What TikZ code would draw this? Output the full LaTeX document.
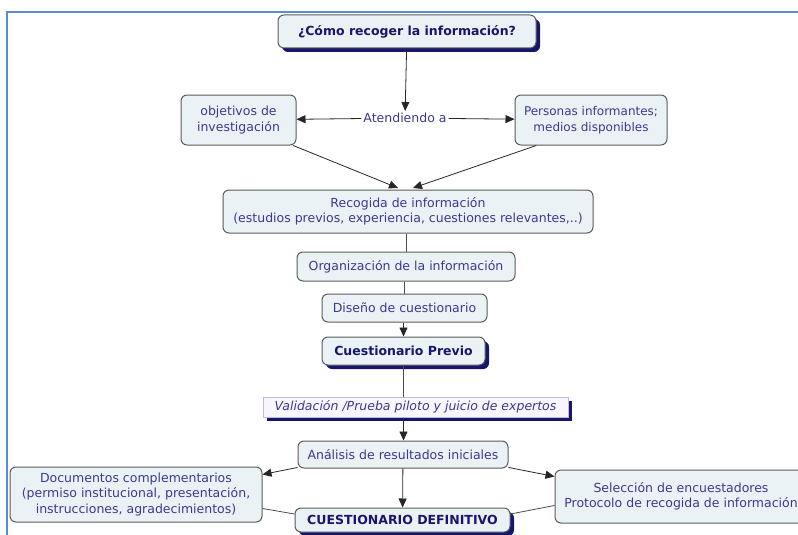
\documentclass[tikz,border=0pt]{standalone}
\usepackage{fontspec}
\setmainfont{DejaVu Sans}
\usepackage{tikz}
\usetikzlibrary{arrows.meta, positioning, shadows}

\definecolor{mapblue}{HTML}{3A3A90}
\definecolor{mapnavy}{HTML}{16166A}
\definecolor{mapfill}{HTML}{EAF2F6}
\definecolor{mapline}{HTML}{5C5C5C}
\definecolor{frameblue}{HTML}{5B8BD2}
\definecolor{lavender}{HTML}{C8B6E2}
\definecolor{palelav}{HTML}{F8F6FC}

\begin{document}
\begin{tikzpicture}[
    x=1pt, y=-1pt,
    concept/.style={rectangle, draw=mapline, line width=1pt, rounded corners=6pt, fill=mapfill, text=mapblue, font=\fontsize{12.5}{15.5}\selectfont, align=center, inner sep=2pt},
    keybox/.style={concept, text=mapnavy, font=\fontsize{12.5}{15}\selectfont\bfseries, drop shadow={shadow xshift=4pt, shadow yshift=-4pt, fill=mapnavy, opacity=1}},
    linkword/.style={fill=white, text=mapblue, font=\fontsize{12.5}{15.5}\selectfont, inner sep=2pt},
    arrow/.style={-{Triangle[length=9pt, width=8pt]}, line width=0.8pt, draw=black!85},
    link/.style={line width=0.8pt, draw=black!70}
]
\useasboundingbox (0,0) rectangle (798,535);
\clip (0,0) rectangle (798,535);

% Frame
\draw[frameblue, line width=2pt] (798,12.5) -- (7,12.5) -- (7,540);

% Question
\node[keybox, minimum width=258, minimum height=33] (question) at (407,31.5) {¿Cómo recoger la información?};

% Criteria
\node[linkword] (atend) at (405,118) {Atendiendo a};
\node[concept, minimum width=115, minimum height=50] (objetivos) at (238.5,120) {objetivos de\\investigación};
\node[concept, minimum width=152, minimum height=50, font=\fontsize{12}{15.5}\selectfont] (personas) at (591,120) {Personas informantes;\\medios disponibles};

% Design steps
\node[concept, minimum width=370, minimum height=43] (recogida) at (408,211.5) {Recogida de información\\(estudios previos, experiencia, cuestiones relevantes,..)};
\node[concept, minimum width=218, minimum height=29] (organiza) at (406,266.5) {Organización de la información};
\node[concept, minimum width=165, minimum height=28] (diseno) at (404.5,308) {Diseño de cuestionario};
\node[keybox, minimum width=163, minimum height=28] (previo) at (403.5,351) {Cuestionario Previo};

% Validation
\node[concept, draw=lavender, fill=palelav, rounded corners=0pt, font=\fontsize{12.5}{15.5}\selectfont\itshape, minimum width=305, minimum height=20, inner sep=1pt, drop shadow={shadow xshift=4pt, shadow yshift=-4pt, fill=mapnavy, opacity=1}] (valida) at (415.5,407) {Validación /Prueba piloto y juicio de expertos};
\node[concept, minimum width=210, minimum height=27] (analisis) at (403,454.5) {Análisis de resultados iniciales};

% Final
\node[concept, minimum width=252, minimum height=55] (docs) at (136,494.5) {Documentos complementarios\\(permiso institucional, presentación,\\instrucciones, agradecimientos)};
\node[concept, minimum width=252, minimum height=53] (seleccion) at (681,496.5) {Selección de encuestadores\\Protocolo de recogida de información};
\node[keybox, minimum width=215, minimum height=24] (definitivo) at (402.5,520) {CUESTIONARIO DEFINITIVO};

% Arrows
\draw[arrow] (question) -- (atend);
\draw[arrow] (atend) -- (objetivos);
\draw[arrow] (atend) -- (personas);
\coordinate (tipL) at (398,188);
\coordinate (tipR) at (413,188);
\draw[arrow] (objetivos.-25) -- (tipL);
\draw[arrow] (personas.-155) -- (tipR);

\draw[link] (recogida.south -| organiza.north) -- (organiza.north);
\draw[link] (organiza.south -| diseno.north) -- (diseno.north);
\draw[arrow] (diseno.south -| previo.north) -- (previo.north);
\draw[link] (previo.south) -- (previo.south |- valida.north);
\draw[arrow] (previo.south |- valida.south) -- (analisis.north -| previo.south);

\draw[arrow] (analisis.-173) -- ([yshift=20pt]docs.east);
\draw[arrow] (analisis.-7) -- ([yshift=20pt]seleccion.west);
\draw[arrow] (analisis) -- (definitivo);
\draw[link] ([yshift=-14pt]docs.east) -- ([yshift=6pt]definitivo.west);
\draw[link] ([yshift=-9pt]seleccion.west) -- ([yshift=6pt]definitivo.east);

\end{tikzpicture}
\end{document}
